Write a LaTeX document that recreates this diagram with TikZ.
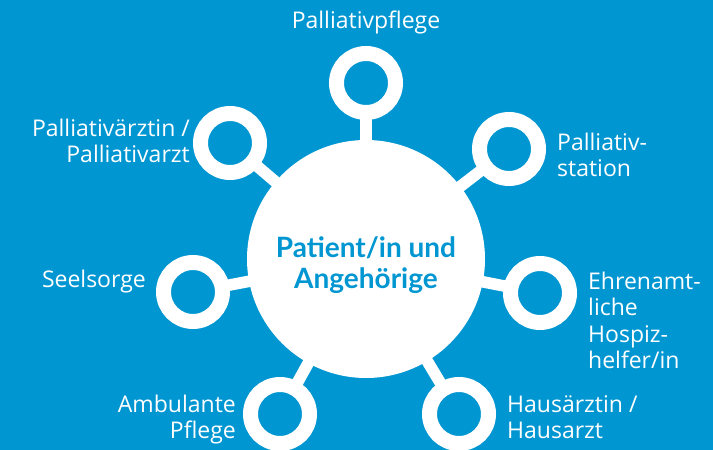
\documentclass[tikz,border=0pt]{standalone}
\usepackage{fontspec}
\setmainfont{Lato}
\newfontfamily\lblfont{Open Sans}
\usetikzlibrary{backgrounds}
\definecolor{bgblue}{RGB}{0,150,210}
\begin{document}
\begin{tikzpicture}[x=1pt,y=1pt,
  ring/.style={circle,minimum size=59pt,inner sep=0pt,draw=white,line width=15pt,fill=bgblue},
  link/.style={draw=white,line width=11.6pt},
  lbl/.style={text=white,font=\lblfont\fontsize{23}{26.5}\selectfont,inner sep=0pt},
  hub/.style={circle,minimum size=238pt,inner sep=0pt,fill=white},
  hubtext/.style={text=bgblue,font=\bfseries\fontsize{28}{31}\selectfont,align=center,inner sep=0pt}]
\useasboundingbox (0,0) rectangle (713,450);
\node[hub] (C) at (366,191) {};
\node[hubtext] (Ct) at (366,185) {Patient/in und\\Angehörige};
\node[ring] (T)  at (366,367) {};
\node[ring] (TL) at (230,307) {};
\node[ring] (TR) at (509,301) {};
\node[ring] (L)  at (193,158) {};
\node[ring] (R)  at (540,157) {};
\node[ring] (BL) at (280,36) {};
\node[ring] (BR) at (459,36) {};
\begin{pgfonlayer}{background}
\fill[bgblue] (0,0) rectangle (713,450);
\foreach \n in {T,TL,TR,L,R,BL,BR} \draw[link] (C.center) -- (\n.center);
\end{pgfonlayer}
\node[lbl,anchor=base] (tT) at (366,421) {Palliativpflege};
\node[lbl,anchor=base east,align=right] (tTL) at (190,287) {Palliativärztin /\\Palliativarzt};
\node[lbl,anchor=base west,align=left] (tTR) at (557,273) {Palliativ-\\station};
\node[lbl,anchor=base east] (tL) at (146,162) {Seelsorge};
\node[lbl,anchor=base west,align=left] (tR) at (588,81) {Ehrenamt-\\liche\\Hospiz-\\helfer/in};
\node[lbl,anchor=base east,align=right] (tBL) at (236,11) {Ambulante\\Pflege};
\node[lbl,anchor=base west,align=left] (tBR) at (507,11) {Hausärztin /\\Hausarzt};
\end{tikzpicture}
\end{document}
